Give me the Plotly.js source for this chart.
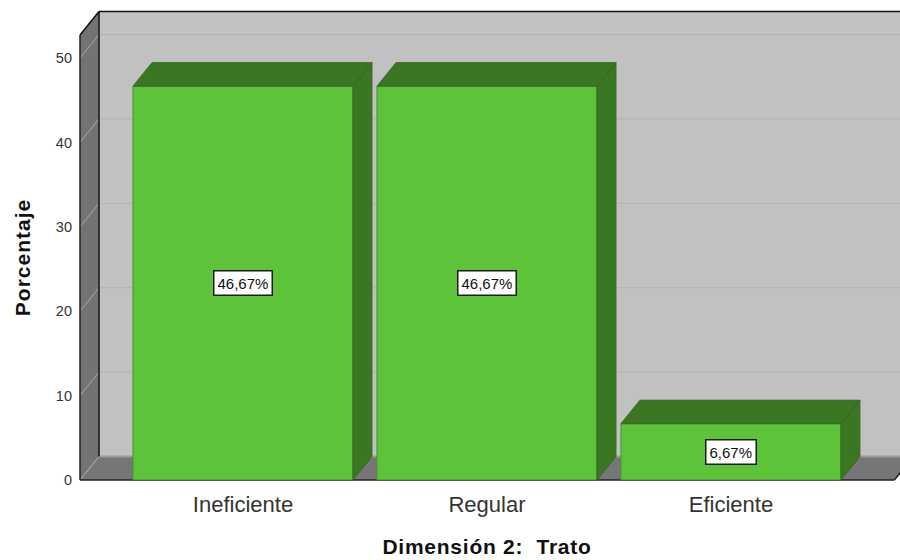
<!DOCTYPE html>
<html><head><meta charset="utf-8">
<script src="https://cdn.plot.ly/plotly-3.0.1.min.js"></script>
<style>html,body{margin:0;padding:0;background:#fff}
.g-xtitle text{letter-spacing:.75px}
.g-ytitle text{letter-spacing:1px}
</style></head>
<body><div id="chart" style="width:900px;height:560px"></div>
<script>
const categories = ["Ineficiente", "Regular", "Eficiente"];
const percentages = [46.67, 46.67, 6.67];
const valueLabels = ["46,67%", "46,67%", "6,67%"];
const yTicks = [0, 10, 20, 30, 40, 50];

const positions = categories.map((_, i) => i);
const barWidth = 0.9016, depthX = 0.0779, depthY = 2.784;
const xMin = -0.6926, xMax = 2.693, yMax = 52.73;
const wallLeft = -0.668, frontRight = 2.67, xEnd = xMax + 0.1;

// 3D depth faces of each bar, derived from the data values
const fx = [], fy = [];
percentages.forEach((v, i) => {
  const l = positions[i] - barWidth / 2, r = positions[i] + barWidth / 2;
  fx.push(l, l + depthX, r + depthX, r, l, null, r, r + depthX, r + depthX, r, r, null);
  fy.push(v, v + depthY, v + depthY, v, v, null, 0, depthY, v + depthY, v, 0, null);
});

const traces = [
  {type: "bar", x: positions, y: percentages, width: barWidth, hoverinfo: "skip",
   marker: {color: "#5dc439", line: {color: "#4a9030", width: 1}}},
  {type: "scatter", mode: "lines", x: fx, y: fy, fill: "toself", fillcolor: "#3b7723",
   line: {color: "#356a20", width: 1}, hoverinfo: "skip"}
];

const py = v => v / yMax;
const backL = wallLeft + depthX;
const poly = (pts, fill) => ({
  type: "path", xref: "x", yref: "paper", layer: "below",
  path: "M" + pts.map(p => p[0] + "," + py(p[1])).join("L") + "Z",
  fillcolor: fill, line: {color: fill, width: 0}
});
const seg = (x0, v0, x1, v1, col, w) => ({
  type: "line", xref: "x", yref: "paper", layer: "below",
  x0: x0, x1: x1, y0: py(v0), y1: py(v1), line: {color: col, width: w}
});
const shapes = [
  poly([[backL, depthY], [xEnd, depthY], [xEnd, yMax + depthY], [backL, yMax + depthY]], "#c1c1c1"),
  poly([[wallLeft, 0], [backL, depthY], [backL, yMax + depthY], [wallLeft, yMax]], "#737373"),
  poly([[wallLeft, 0], [backL, depthY], [xEnd, depthY], [frontRight + depthX, depthY], [frontRight, 0]], "#767676"),
  seg(backL, depthY, xEnd, depthY, "#9c9c9c", 2),
  seg(wallLeft, 0, backL, depthY, "#b0b0b0", 1)
];
yTicks.slice(1).forEach(v => {
  shapes.push(seg(backL, v + depthY, xEnd, v + depthY, "#b2b2b2", 1));
  shapes.push(seg(wallLeft, v, backL, v + depthY, "#a8a8a8", 1));
});
shapes.push(
  seg(backL, depthY, backL, yMax + depthY, "#111", 1.5),
  seg(backL, yMax + depthY, xEnd, yMax + depthY, "#111", 1.5),
  seg(wallLeft, yMax, backL, yMax + depthY, "#111", 1.5),
  seg(wallLeft, 0, wallLeft, yMax, "#222", 1.5),
  seg(wallLeft, 0, frontRight, 0, "#222", 1.5),
  seg(frontRight, 0, frontRight + depthX, depthY, "#222", 1.5)
);

const annotations = percentages.map((v, i) => ({
  xref: "x", yref: "y", x: positions[i], y: v / 2, text: valueLabels[i], showarrow: false,
  font: {family: "Liberation Sans, Arial, sans-serif", size: 15, color: "#111"},
  bgcolor: "#ffffff", bordercolor: "#1a1a1a", borderwidth: 1.5, borderpad: 3
}));

const layout = {
  width: 900, height: 560, showlegend: false, paper_bgcolor: "#ffffff", plot_bgcolor: "rgba(0,0,0,0)",
  margin: {l: 74, r: 0, t: 35, b: 80},
  font: {family: "Liberation Sans, Arial, sans-serif", color: "#222"},
  xaxis: {range: [xMin, xMax], tickmode: "array", tickvals: positions, ticktext: categories,
    showgrid: false, zeroline: false, showline: false, ticks: "", ticklabelstandoff: 9,
    tickfont: {size: 22, color: "#333"},
    title: {text: "<b>Dimensión 2:\u00a0\u00a0Trato</b>", font: {size: 21, color: "#111"}, standoff: 23}},
  yaxis: {range: [0, yMax], tickmode: "array", tickvals: yTicks, ticktext: yTicks.map(String),
    showgrid: false, zeroline: false, showline: false, ticks: "", ticklabelstandoff: 1,
    tickfont: {size: 14.5, color: "#333"},
    title: {text: "<b>Porcentaje</b>", font: {size: 21, color: "#111"}, standoff: 19}},
  shapes: shapes, annotations: annotations
};
Plotly.newPlot("chart", traces, layout, {displayModeBar: false, responsive: false});
</script></body></html>
